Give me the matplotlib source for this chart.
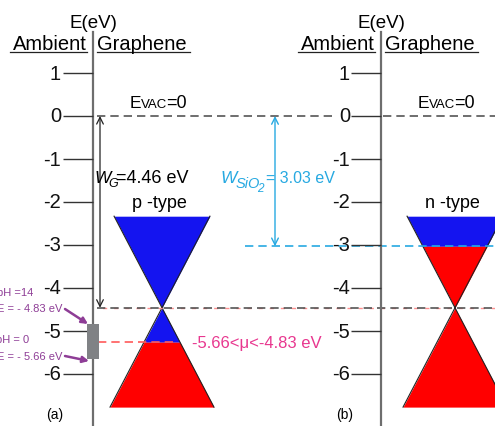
import matplotlib.pyplot as plt
import numpy as np

plt.rcParams['font.family'] = ['Liberation Sans', 'DejaVu Sans']

# energy values (eV)
energy_ticks = [1, 0, -1, -2, -3, -4, -5, -6]
e_vac = 0.0
w_graphene = 4.46          # graphene work function
w_sio2 = 3.03              # SiO2 induced level
ph14_energy = -4.83
ph0_energy = -5.66
mu_p = -5.26               # fermi level of p-type graphene
cone_top = -2.33
cone_bottom = -6.77
panels = ['(a)', '(b)']
doping = ['p -type', 'n -type']

# layout, in pixels of the 495x427 figure
PX_PER_EV = 43.0
Y0 = 117.0


def ey(py):
    return (Y0 - py) / PX_PER_EV


BLUE = '#1414f0'
RED = '#ff0000'
CYAN = '#27a9e1'
MAGENTA = '#e8378f'
PURPLE = '#8e3d96'
GRAY = '#6e6e6e'

fig = plt.figure(figsize=(4.95, 4.27), dpi=100)
ax = fig.add_axes([0, 0, 1, 1])
ax.set_xlim(0, 495)
ax.set_ylim(ey(427), ey(0))
ax.axis('off')

dirac = e_vac - w_graphene
e_n = e_vac - w_sio2


def cone(xc, fills, k=22.5):
    # fills: list of (low, high, colour) energy bands
    for lo, hi, col in fills:
        y = np.linspace(lo, hi, 200)
        half = k * np.abs(y - dirac)
        ax.fill_betweenx(y, xc - half, xc + half, color=col, lw=0, zorder=2)
    for top in (cone_top, cone_bottom):
        d = k * abs(top - dirac)
        ax.plot([xc - d, xc], [top, dirac], color='#222222', lw=0.8, zorder=3)
        ax.plot([xc + d, xc], [top, dirac], color='#222222', lw=0.8, zorder=3)


def energy_axis(xa, label_right):
    ax.plot([xa, xa], [ey(33), ey(427)], color=GRAY, lw=1.6, zorder=4)
    ax.hlines(energy_ticks, xa - 30, xa, color='#333333', lw=1.0, zorder=4)
    for t in energy_ticks:
        ax.text(label_right, t, str(t), ha='right', va='center', fontsize=14.5,
                color='#111111', zorder=5)
    ax.text(xa, ey(23), 'E(eV)', ha='center', va='center', fontsize=13.5)
    ax.text(xa - 6, ey(45), 'Ambient', ha='right', va='center', fontsize=14.5)
    ax.text(xa + 4, ey(45), 'Graphene', ha='left', va='center', fontsize=14.5)
    ax.plot([xa - 83, xa - 6], [ey(53), ey(53)], color='#222222', lw=0.9)
    ax.plot([xa + 4, xa + 97], [ey(53), ey(53)], color='#222222', lw=0.9)


def evac_label(x):
    ax.text(x, ey(108), 'E', ha='left', va='baseline', fontsize=12.5)
    ax.text(x + 10.5, ey(108), 'VAC', ha='left', va='baseline', fontsize=9.5)
    ax.text(x + 36, ey(108), '=0', ha='left', va='baseline', fontsize=13)


# cones
cone(162, [(dirac, cone_top, BLUE), (mu_p, dirac, BLUE), (cone_bottom, mu_p, RED)])
cone(455, [(e_n, cone_top, BLUE), (cone_bottom, e_n, RED)])

# energy axes
energy_axis(93, 61)
energy_axis(381, 350)

# vacuum level and dirac point
ax.plot([97, 336], [e_vac, e_vac], ls=(0, (5, 3)), color='#555555', lw=1.2, zorder=3)
ax.plot([383, 495], [e_vac, e_vac], ls=(0, (5, 3)), color='#555555', lw=1.2, zorder=3)
ax.plot([97, 495], [dirac, dirac], ls=(4, (3, 5)), color='#ff9090', lw=1.0, zorder=3)
ax.plot([97, 495], [dirac, dirac], ls=(0, (5, 3)), color='#555555', lw=1.2, zorder=3)
evac_label(130)
evac_label(418)

# work function arrows
ax.annotate('', xy=(100, e_vac), xytext=(100, dirac),
            arrowprops=dict(arrowstyle='<->', color='#222222', lw=0.9,
                            shrinkA=0, shrinkB=0, mutation_scale=12))
ax.text(95, ey(183), 'W', ha='left', va='baseline', fontsize=12.5, style='italic')
ax.text(108, ey(187), 'G', ha='left', va='baseline', fontsize=9, style='italic')
ax.text(116, ey(183), '=4.46 eV', ha='left', va='baseline', fontsize=13)
ax.text(159, ey(203), doping[0], ha='center', va='center', fontsize=13)
ax.text(452, ey(204), doping[1], ha='center', va='center', fontsize=13)

ax.plot([245, 495], [e_n, e_n], ls=(0, (5, 3)), color=CYAN, lw=1.2, zorder=3)
ax.annotate('', xy=(275, e_vac), xytext=(275, e_n),
            arrowprops=dict(arrowstyle='<->', color=CYAN, lw=1.0,
                            shrinkA=0, shrinkB=0, mutation_scale=12))
ax.text(220, ey(183), 'W', ha='left', va='baseline', fontsize=12.5,
        style='italic', color=CYAN)
ax.text(235.5, ey(188), 'SiO', ha='left', va='baseline', fontsize=10.5,
        style='italic', color=CYAN)
ax.text(257.5, ey(192), '2', ha='left', va='baseline', fontsize=8.5,
        style='italic', color=CYAN)
ax.text(266, ey(183), '= 3.03 eV', ha='left', va='baseline', fontsize=11.5,
        color=CYAN)

# chemical potential range
ax.plot([98, 175], [mu_p, mu_p], ls=(0, (5, 3)), color='#ff5a5a', lw=1.2, zorder=3)
ax.text(192, mu_p, '-5.66<\u03bc<-4.83 eV', ha='left', va='center',
        fontsize=12, color=MAGENTA)

# pH window of the electrolyte
ax.bar(93, ph0_energy - ph14_energy, bottom=ph14_energy, width=12,
       color='#808285', zorder=5)
ax.text(33, ey(293), 'pH =14', ha='right', va='center', fontsize=8, color=PURPLE)
ax.text(62, ey(309), 'E = - 4.83 eV', ha='right', va='center', fontsize=8, color=PURPLE)
ax.text(29, ey(340), 'pH = 0', ha='right', va='center', fontsize=8, color=PURPLE)
ax.text(62, ey(357), 'E = - 5.66 eV', ha='right', va='center', fontsize=8, color=PURPLE)
for (x0, y0), (x1, y1) in [((65, 310), (88, 325)), ((65, 357), (89, 362))]:
    ax.annotate('', xy=(x1, ey(y1)), xytext=(x0, ey(y0)),
                arrowprops=dict(arrowstyle='-|>', color=PURPLE, lw=1.8,
                                shrinkA=0, shrinkB=0, mutation_scale=9))

ax.text(55, ey(415), panels[0], ha='center', va='center', fontsize=10)
ax.text(345, ey(415), panels[1], ha='center', va='center', fontsize=10)

fig.savefig('out.png', dpi=100)
